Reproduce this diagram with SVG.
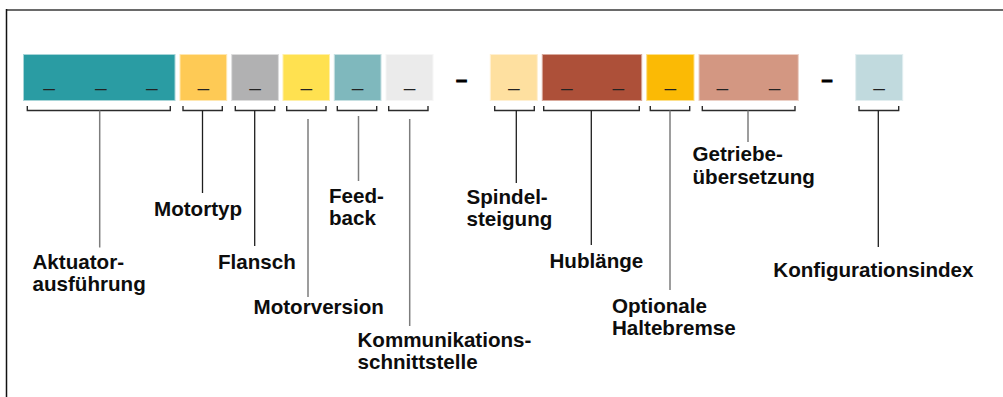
<svg xmlns="http://www.w3.org/2000/svg" width="1003" height="397" viewBox="0 0 1003 397">
  <style>
    .cell { stroke-width: 1; }
    .ph { font-family: "Liberation Sans", Arial, sans-serif; font-size: 21px; fill: #222; text-anchor: middle; }
    .sep { font-family: "Liberation Sans", Arial, sans-serif; font-size: 20px; font-weight: bold; fill: #000; stroke: #000; stroke-width: 0.9; text-anchor: middle; }
    .brk { fill: none; stroke: #2b2b2b; stroke-width: 1.4; }
    .lead-d { stroke: #1e1e1e; stroke-width: 1.3; }
    .lead-g { stroke: #7d7d7d; stroke-width: 1.5; }
    .lbl { font-family: "Liberation Sans", Arial, sans-serif; font-size: 20.6px; font-weight: bold; fill: #0d0d0d; }
  </style>

  <!-- frame -->
  <line x1="6" y1="10" x2="1003" y2="10" stroke="#6a6a6a" stroke-width="1.8"/>
  <line x1="6.5" y1="9" x2="6.5" y2="397" stroke="#111" stroke-width="1.5"/>

  <!-- code fields -->
  <g id="field-aktuator">
    <rect class="cell" x="23.5" y="54.5" width="151.5" height="46" fill="#2a9ca3" stroke="#a6d5d8"/>
    <text class="ph" x="49.2" y="94.5">–</text>
    <text class="ph" x="100.8" y="94.5">–</text>
    <text class="ph" x="151.8" y="94.5">–</text>
  </g>
  <g id="field-motortyp">
    <rect class="cell" x="180" y="54.5" width="46.7" height="46" fill="#feca55" stroke="#ffe7b0"/>
    <text class="ph" x="203.3" y="94.5">–</text>
  </g>
  <g id="field-flansch">
    <rect class="cell" x="231.7" y="54.5" width="46.7" height="46" fill="#b1b1b2" stroke="#dcdcdc"/>
    <text class="ph" x="255" y="94.5">–</text>
  </g>
  <g id="field-motorversion">
    <rect class="cell" x="283" y="54.5" width="46.5" height="46" fill="#ffe150" stroke="#fff0a8"/>
    <text class="ph" x="306.3" y="94.5">–</text>
  </g>
  <g id="field-feedback">
    <rect class="cell" x="334.3" y="54.5" width="46.7" height="46" fill="#7fb8bd" stroke="#c6e0e2"/>
    <text class="ph" x="357.7" y="94.5">–</text>
  </g>
  <g id="field-kommunikation">
    <rect class="cell" x="386" y="54.5" width="47" height="46" fill="#ebebeb" stroke="#f6f6f6"/>
    <text class="ph" x="409.5" y="94.5">–</text>
  </g>
  <text class="sep" x="461.5" y="85.5">–</text>
  <g id="field-spindel">
    <rect class="cell" x="490.3" y="54.5" width="47" height="46" fill="#fee0a0" stroke="#fff0d2"/>
    <text class="ph" x="513.8" y="94.5">–</text>
  </g>
  <g id="field-hub">
    <rect class="cell" x="542.3" y="54.5" width="99.4" height="46" fill="#ad5039" stroke="#d9a99c"/>
    <text class="ph" x="566.8" y="94.5">–</text>
    <text class="ph" x="618.4" y="94.5">–</text>
  </g>
  <g id="field-haltebremse">
    <rect class="cell" x="646.7" y="54.5" width="47.3" height="46" fill="#fbba05" stroke="#fde08a"/>
    <text class="ph" x="670.3" y="94.5">–</text>
  </g>
  <g id="field-getriebe">
    <rect class="cell" x="699" y="54.5" width="99.3" height="46" fill="#d39782" stroke="#ecd0c6"/>
    <text class="ph" x="722.3" y="94.5">–</text>
    <text class="ph" x="774.7" y="94.5">–</text>
  </g>
  <text class="sep" x="827" y="85.5">–</text>
  <g id="field-konfiguration">
    <rect class="cell" x="855.7" y="54.5" width="47" height="46" fill="#c1dade" stroke="#e2eef0"/>
    <text class="ph" x="879.2" y="94.5">–</text>
  </g>

  <!-- brackets and leader lines -->
  <g id="connectors">
    <path class="brk" d="M27.3 106V110.5H170.3V106"/>
    <path class="brk" d="M183 106V110.5H222.3V106"/>
    <path class="brk" d="M235.3 106V110.5H274.7V106"/>
    <path class="brk" d="M286.7 106V110.5H326V106"/>
    <path class="brk" d="M337.3 106V110.5H376.7V106"/>
    <path class="brk" d="M388.7 106V110.5H428V106"/>
    <path class="brk" d="M494.7 106V110.5H534.3V106"/>
    <path class="brk" d="M543.7 106V110.5H639.3V106"/>
    <path class="brk" d="M650.3 106V110.5H689.7V106"/>
    <path class="brk" d="M702.3 106V110.5H795V106"/>
    <path class="brk" d="M859 106V110.5H898.7V106"/>

    <line class="lead-g" x1="99.7" y1="110.5" x2="99.7" y2="247.5"/>
    <line class="lead-d" x1="202.5" y1="110.5" x2="202.5" y2="193"/>
    <line class="lead-d" x1="254.7" y1="110.5" x2="254.7" y2="246"/>
    <line class="lead-g" x1="308" y1="119" x2="308" y2="297"/>
    <line class="lead-g" x1="358.5" y1="116" x2="358.5" y2="181"/>
    <line class="lead-g" x1="409.7" y1="119" x2="409.7" y2="326"/>
    <line class="lead-d" x1="516.3" y1="110.5" x2="516.3" y2="183"/>
    <line class="lead-d" x1="591.3" y1="110.5" x2="591.3" y2="245"/>
    <line class="lead-g" x1="670" y1="110.5" x2="670" y2="290"/>
    <line class="lead-g" x1="748" y1="110.5" x2="748" y2="142"/>
    <line class="lead-d" x1="878.3" y1="110.5" x2="878.3" y2="247"/>
  </g>

  <!-- labels -->
  <g id="label-aktuator"><text class="lbl" x="32.5" y="269"><tspan x="32.5">Aktuator-</tspan><tspan x="32.5" dy="22">ausführung</tspan></text></g>
  <g id="label-motortyp"><text class="lbl" x="154" y="216">Motortyp</text></g>
  <g id="label-flansch"><text class="lbl" x="218" y="269">Flansch</text></g>
  <g id="label-feedback"><text class="lbl" x="329" y="203"><tspan x="329">Feed-</tspan><tspan x="329" dy="22">back</tspan></text></g>
  <g id="label-motorversion"><text class="lbl" x="253.5" y="314">Motorversion</text></g>
  <g id="label-kommunikation"><text class="lbl" x="357.5" y="347"><tspan x="357.5">Kommunikations-</tspan><tspan x="357.5" dy="22">schnittstelle</tspan></text></g>
  <g id="label-spindel"><text class="lbl" x="466.5" y="204"><tspan x="466.5">Spindel-</tspan><tspan x="466.5" dy="22">steigung</tspan></text></g>
  <g id="label-hub"><text class="lbl" x="549.5" y="268">Hublänge</text></g>
  <g id="label-haltebremse"><text class="lbl" x="612" y="312.5"><tspan x="612">Optionale</tspan><tspan x="612" dy="22">Haltebremse</tspan></text></g>
  <g id="label-getriebe"><text class="lbl" x="692.5" y="161"><tspan x="692.5">Getriebe-</tspan><tspan x="692.5" dy="22.5">übersetzung</tspan></text></g>
  <g id="label-konfiguration"><text class="lbl" x="773.3" y="277">Konfigurationsindex</text></g>
</svg>
